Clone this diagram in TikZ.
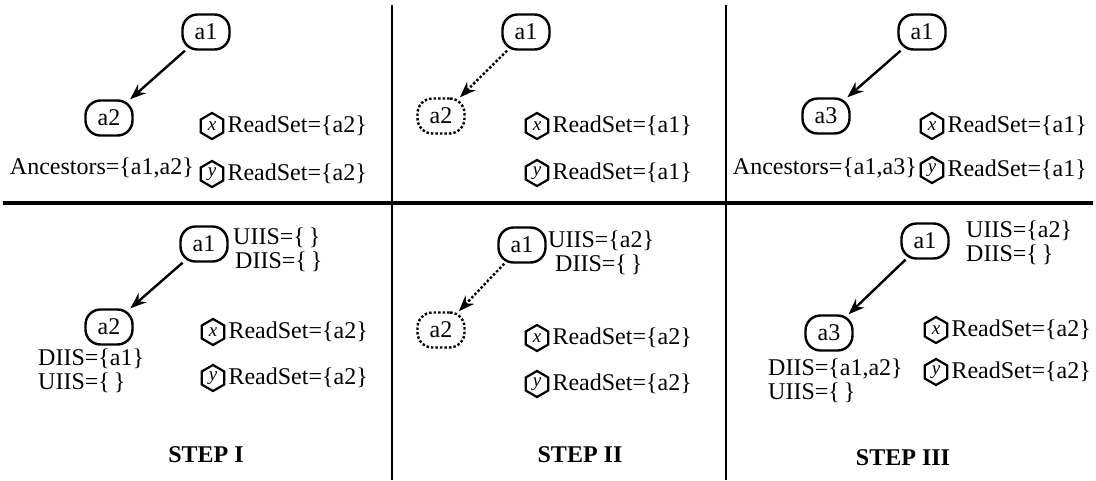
\documentclass[tikz,border=0pt]{standalone}
\usepackage{fontspec}
\setmainfont{Liberation Serif}
\usetikzlibrary{arrows.meta,positioning,shapes.geometric}
\newcommand{\rset}[1]{ReadSet=\{#1\}}
\newcommand{\noset}{\{\,\}}

\begin{document}
\begin{tikzpicture}[
        x=1pt,y=-1pt,
        every node/.style={font=\fontsize{24}{26}\selectfont},
        act/.style={draw,line width=2.4pt,rounded corners=15pt,minimum width=47pt,minimum height=35pt,inner sep=2pt},
        ghost/.style={act,dash pattern=on 2.5pt off 2pt},
        obj/.style={draw,line width=2.2pt,regular polygon,regular polygon sides=6,shape border rotate=30,
          minimum size=26pt,inner sep=0pt,font=\fontsize{19}{19}\selectfont\itshape},
        lbl/.style={inner sep=0pt},
        steplbl/.style={font=\fontsize{24}{26}\selectfont\bfseries},
        link/.style={line width=2.4pt,-{Stealth[length=16pt,width=12pt]}},
        ghostlink/.style={link,dash pattern=on 2.5pt off 2pt},
      ]
      \useasboundingbox (0,0) rectangle (1096,480);
      % frame
      \draw[line width=2pt] (392,5) -- (392,480);
      \draw[line width=2pt] (726,5) -- (726,480);
      \draw[line width=4.5pt] (3,203) -- (1093,203);

      % step I, upper
      \node[act] (u1a1) at (206,32) {a1};
      \node[act] (u1a2) at (109,118) {a2};
      \draw[link] (u1a1) -- (u1a2);
      \node[obj] (u1x) at (212,126) {x};
      \node[lbl,right=3pt of u1x] (u1rx) {\rset{a2}};
      \node[obj] (u1y) at (212,174) {y};
      \node[lbl,right=3pt of u1y] (u1ry) {\rset{a2}};
      \node[lbl,anchor=east] (u1anc) at (194,168) {Ancestors=\{a1,a2\}};

      % step II, upper
      \node[act] (u2a1) at (526,32) {a1};
      \node[ghost] (u2a2) at (441,116) {a2};
      \draw[ghostlink] (u2a1) -- (u2a2);
      \node[obj] (u2x) at (537,126) {x};
      \node[lbl,right=3pt of u2x] (u2rx) {\rset{a1}};
      \node[obj] (u2y) at (537,173) {y};
      \node[lbl,right=3pt of u2y] (u2ry) {\rset{a1}};

      % step III, upper
      \node[act] (u3a1) at (922,32) {a1};
      \node[act] (u3a3) at (826,116) {a3};
      \draw[link] (u3a1) -- (u3a3);
      \node[obj] (u3x) at (932,126) {x};
      \node[lbl,right=3pt of u3x] (u3rx) {\rset{a1}};
      \node[obj] (u3y) at (932,170) {y};
      \node[lbl,right=3pt of u3y] (u3ry) {\rset{a1}};
      \node[lbl,anchor=east] (u3anc) at (917,168) {Ancestors=\{a1,a3\}};

      % step I, lower
      \node[act] (l1a1) at (204,244) {a1};
      \node[lbl,anchor=west] (l1u) at (233,238) {UIIS=\noset};
      \node[lbl,anchor=west] (l1d) at (235,262) {DIIS=\noset};
      \node[act] (l1a2) at (109,327) {a2};
      \draw[link] (l1a1) -- (l1a2);
      \node[lbl,anchor=west] (l1dd) at (38,359) {DIIS=\{a1\}};
      \node[lbl,anchor=west] (l1uu) at (38,383) {UIIS=\noset};
      \node[obj] (l1x) at (213,332) {x};
      \node[lbl,right=3pt of l1x] (l1rx) {\rset{a2}};
      \node[obj] (l1y) at (213,378) {y};
      \node[lbl,right=3pt of l1y] (l1ry) {\rset{a2}};
      \node[steplbl] (s1) at (206,455) {STEP I};

      % step II, lower
      \node[act] (l2a1) at (522,245) {a1};
      \node[lbl,anchor=west] (l2u) at (548,241) {UIIS=\{a2\}};
      \node[lbl,anchor=west] (l2d) at (555,265) {DIIS=\noset};
      \node[ghost] (l2a2) at (441,330) {a2};
      \draw[ghostlink] (l2a1) -- (l2a2);
      \node[obj] (l2x) at (537,338) {x};
      \node[lbl,right=3pt of l2x] (l2rx) {\rset{a2}};
      \node[obj] (l2y) at (537,384) {y};
      \node[lbl,right=3pt of l2y] (l2ry) {\rset{a2}};
      \node[steplbl] (s2) at (580,455) {STEP II};

      % step III, lower
      \node[act] (l3a1) at (925,241) {a1};
      \node[lbl,anchor=west] (l3u) at (966,231) {UIIS=\{a2\}};
      \node[lbl,anchor=west] (l3d) at (966,255) {DIIS=\noset};
      \node[act] (l3a3) at (829,333) {a3};
      \draw[link] (l3a1) -- (l3a3);
      \node[lbl,anchor=west] (l3dd) at (768,369) {DIIS=\{a1,a2\}};
      \node[lbl,anchor=west] (l3uu) at (768,393) {UIIS=\noset};
      \node[obj] (l3x) at (936,330) {x};
      \node[lbl,right=3pt of l3x] (l3rx) {\rset{a2}};
      \node[obj] (l3y) at (936,372) {y};
      \node[lbl,right=3pt of l3y] (l3ry) {\rset{a2}};
      \node[steplbl] (s3) at (903,458) {STEP III};
\end{tikzpicture}
\end{document}
